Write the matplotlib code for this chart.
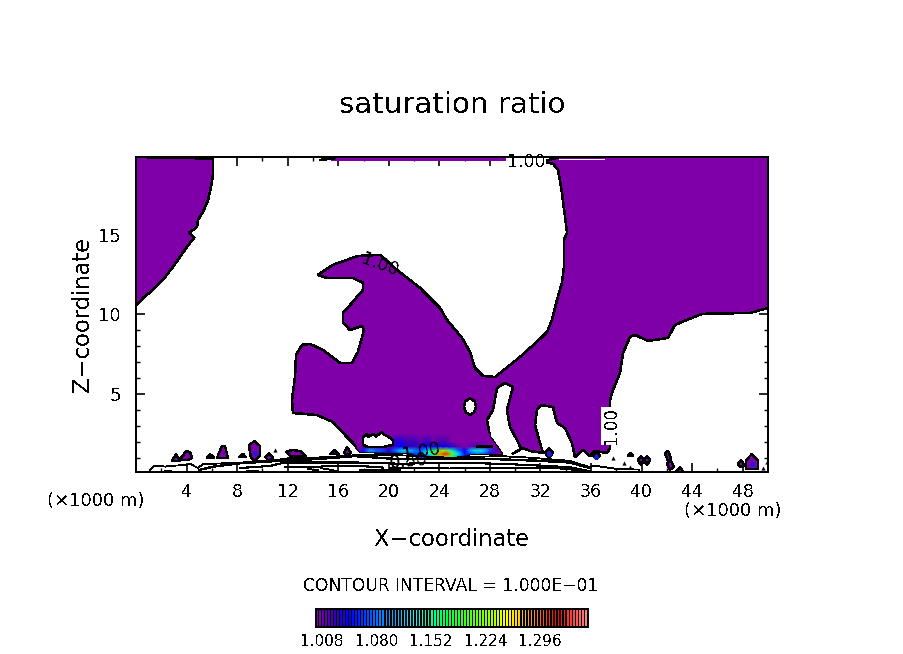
import numpy as np
import matplotlib
matplotlib.use("Agg")
import matplotlib.pyplot as plt
from matplotlib.colors import LinearSegmentedColormap
from matplotlib.patches import Polygon

plt.rcParams.update({"font.family": "DejaVu Sans", "text.antialiased": False,
                     "lines.antialiased": False, "patch.antialiased": False})

# ---- region outlines of the 1.00 contour, (x km, z km)
left_x = [0, 6.09, 6.09, 5.93, 5.70, 5.30, 4.90, 4.83, 4.19, 4.59, 4.03, 3.48, 2.93, 2.14, 1.34, 0.55, 0]
left_z = [19.9, 19.8, 18.8, 18.0, 17.2, 16.45, 15.95, 15.5, 15.13, 14.82, 14.25, 13.62, 13.0, 12.18, 11.55, 11.04, 10.54]

main_x = [50, 33.47, 32.2, 33.0, 33.39, 33.7, 33.94, 34.1, 33.86, 33.86, 33.7, 33.31, 32.91, 32.52, 31.96, 30.38,
          28.4, 27.45, 26.82, 26.42, 25.79, 24.6, 24.05, 22.47, 20.65, 19.3, 17.56, 15.59, 14.4, 15.11, 17.17, 17.96,
          17.96, 17.09, 16.38, 16.38, 16.93, 17.88, 18.04, 17.56, 17.09, 16.14, 14.79, 13.77, 13.13, 12.66, 12.58,
          12.34, 12.42, 14.32, 15.59, 16.3, 17.17, 17.72, 21.5, 22.5, 25.5, 26.5, 28.96, 28.01, 27.77, 28.24, 28.56,
          29.19, 29.83, 29.35, 29.59, 30.22, 30.46, 29.75, 30.62, 31.17, 32.2, 31.96, 31.57, 31.72, 32.04, 32.99,
          33.31, 33.94, 34.49, 34.73, 35.36, 35.92, 36.31, 37.26, 37.5, 37.5, 37.74, 38.29, 38.53, 39.08, 39.48,
          40.51, 42.09, 42.64, 44.78, 48.58, 50]
main_z = [19.9, 19.9, 19.6, 19.47, 19.09, 17.65, 16.14, 15.13, 14.69, 13.0, 11.99, 10.92, 9.66, 8.9, 8.46, 7.33,
          6.07, 6.14, 6.64, 7.65, 8.53, 9.66, 10.41, 11.67, 12.8, 13.75, 13.68, 13.12, 12.49, 12.3, 12.3, 11.99,
          11.55, 10.73, 10.1, 9.47, 9.03, 9.28, 9.03, 7.65, 6.96, 6.96, 7.77, 8.15, 8.09, 7.46, 6.07,
          4.63, 3.81, 3.68, 3.24, 2.62, 1.92, 1.36, 1.3, 1.0, 1.0, 1.25, 1.23, 2.3, 3.37, 4.0, 5.38,
          5.7, 5.45, 4.0, 2.93, 1.99, 1.55, 1.23, 1.61, 1.42, 1.3, 1.92, 3.06, 4.0, 4.31, 4.19,
          3.18, 2.87, 1.92, 1.04, 1.48, 1.11, 1.42, 1.29, 1.61, 4.63, 5.26, 6.33, 7.58, 8.59, 8.72,
          8.34, 8.53, 9.35, 10.04, 10.1, 10.41]

top_x = [15.5, 29.6, 29.6, 15.5]
top_z = [19.9, 19.9, 19.68, 19.7]

hole_oval_x = [26.42, 26.8, 26.9, 26.75, 26.42, 26.1, 25.95, 26.05]
hole_oval_z = [4.72, 4.55, 4.2, 3.85, 3.68, 3.85, 4.2, 4.55]
hole_patch_x = [17.96, 18.28, 18.35, 18.75, 19.0, 19.46, 19.54, 20.0, 20.33, 20.33, 19.54, 18.35, 17.96]
hole_patch_z = [2.3, 2.49, 2.3, 2.49, 2.35, 2.62, 2.49, 2.3, 2.11, 1.8, 1.67, 1.67, 1.8]

# ---- small saturated cells: (xs, zs, has_blue_core)
cells = [
    ([2.85, 3.16, 3.48], [0.79, 1.23, 0.79], False),
    ([3.56, 3.96, 4.27, 4.43, 4.11, 3.64], [0.98, 1.42, 1.36, 0.98, 0.85, 0.85], False),
    ([5.62, 5.85, 6.17], [1.0, 1.23, 1.0], False),
    ([6.41, 6.8, 7.04, 7.28, 6.41], [0.98, 1.74, 1.74, 0.98, 0.98], False),
    ([8.15, 8.47, 8.7], [1.04, 1.23, 1.04], False),
    ([8.94, 9.34, 9.81, 9.81, 9.34, 9.1], [1.74, 2.05, 1.74, 1.11, 0.79, 0.98], True),
    ([10.21, 10.52, 10.84, 10.52], [1.04, 1.29, 1.04, 0.79], False),
    ([11.87, 12.34, 12.97, 13.45, 12.18], [1.36, 1.48, 1.42, 1.11, 1.11], False),
    ([15.35, 15.74, 16.06], [1.23, 1.48, 1.23], False),
    ([16.46, 16.69, 17.01, 16.69], [1.29, 1.67, 1.29, 1.17], False),
    ([32.36, 32.67, 32.99, 32.67], [1.3, 1.61, 1.3, 1.0], True),
    ([36.16, 36.39, 36.71, 36.39], [1.1, 1.42, 1.1, 0.92], True),
    ([38.92, 39.08, 39.32], [1.11, 1.3, 1.11], False),
    ([39.72, 39.95, 40.19, 39.95], [0.85, 1.1, 0.85, 0.54], False),
    ([40.19, 40.43, 40.66, 40.43], [0.85, 1.1, 0.85, 0.54], False),
    ([41.85, 42.09, 42.33, 42.09], [1.29, 1.42, 0.98, 0.79], False),
    ([42.01, 42.25, 42.56, 42.25], [0.6, 0.85, 0.45, 0.23], False),
    ([42.72, 43.04, 43.28], [0.1, 0.41, 0.1], False),
    ([47.63, 47.86, 48.18, 47.86], [0.6, 0.85, 0.5, 0.41], False),
    ([48.26, 48.73, 49.21, 49.21, 48.26], [0.85, 1.23, 0.85, 0.3, 0.3], True),
]
specks_x = [11.0, 37.74, 38.61, 39.08, 49.6, 49.95]
specks_z = [1.5, 0.95, 0.65, 0.42, 0.35, 0.75]

# ---- plume of high saturation along the cloud base
band_x = list(np.arange(17.5, 29.5, 0.5))
band_z = [1.0, 1.25, 1.45, 1.7, 2.0, 2.5]
band_vals = [
 [1.00,1.00,1.00,1.00,1.00,1.00,1.00,1.00,1.00,1.00,1.01,1.05,1.11,1.20,1.24,1.16,1.08,1.02,1.00,1.00,1.00,1.00,1.00,1.00],
 [1.00,1.03,1.07,1.06,1.05,1.02,1.05,1.08,1.07,1.06,1.07,1.13,1.20,1.29,1.32,1.21,1.12,1.05,1.06,1.08,1.07,1.03,1.00,1.00],
 [1.00,1.05,1.10,1.08,1.07,1.03,1.08,1.12,1.11,1.09,1.07,1.12,1.16,1.22,1.23,1.14,1.08,1.04,1.11,1.14,1.12,1.07,1.02,1.00],
 [1.00,1.00,1.01,1.00,1.01,1.01,1.03,1.04,1.03,1.02,1.03,1.04,1.04,1.04,1.04,1.03,1.01,1.00,1.01,1.02,1.01,1.00,1.00,1.00],
 [1.00,1.00,1.00,1.00,1.00,1.00,1.03,1.04,1.02,1.03,1.01,1.03,1.01,1.02,1.02,1.00,1.00,1.00,1.00,1.00,1.00,1.00,1.00,1.00],
 [1.00,1.00,1.00,1.00,1.00,1.00,1.00,1.00,1.00,1.00,1.00,1.00,1.00,1.00,1.00,1.00,1.00,1.00,1.00,1.00,1.00,1.00,1.00,1.00],
]

# ---- thin contour lines close to the ground
low_lines = [
 ([1.1,1.5,2.3,3.1,3.9,4.3,4.9,5.3,7.9,11.1,12.2,13.8,17.3,20.9,24.8,28.8,31.2,34.3,35.9,36.2,38.0,39.8],
  [0.25,0.5,0.44,0.5,0.54,0.6,0.35,0.6,0.67,0.85,0.98,0.98,1.15,1.15,1.0,1.1,1.0,0.8,0.4,0.5,0.3,0.25], 0.6),
 ([5.0,6.2,8.2,11.1,13.0,15.4,17.3,20.9,24.8,28.8,32.0,34.3,35.9],
  [0.23,0.45,0.65,0.79,0.85,0.98,1.1,0.9,0.9,0.9,0.8,0.7,0.35], 1.0),
 ([8.2,10.6,11.8,13.8,17.3,20.9,24.8,28.8,32.0,34.3,35.9],
  [0.35,0.48,0.7,0.7,0.7,0.62,0.68,0.62,0.5,0.4,0.15], 0.8),
 ([11.8,13.8,15.4,17.3,19.5],[0.4,0.4,0.48,0.5,0.38], 0.8),
 ([20.1,24.8,28.8,33.6,35.9],[0.38,0.32,0.38,0.32,0.15], 0.7),
 ([17.8,20.7],[0.18,0.18], 2.2),
 ([2.3,2.7],[0.15,0.15], 0.8),
 ([8.8,9.6],[0.15,0.15], 0.8),
 ([13.6,14.4],[0.3,0.2], 0.6),
 ([14.6,16.0],[0.35,0.15], 0.6),
 ([27.0,28.1],[1.72,1.72], 1.8),
]

cbar_levels = list(np.arange(1.0, 1.36, 0.004))
cbar_labels = ["1.008", "1.080", "1.152", "1.224", "1.296"]
x_tick_labels = [4, 8, 12, 16, 20, 24, 28, 32, 36, 40, 44, 48]
z_tick_labels = [5, 10, 15]

PURPLE = "#7f00a8"
cmap = LinearSegmentedColormap.from_list("sat", [
    (0.0, PURPLE), (0.06, "#4000b0"), (0.12, "#0000ff"), (0.25, "#0090ff"), (0.36, "#00ffff"),
    (0.48, "#00ff40"), (0.62, "#80ff00"), (0.70, "#ffff00"), (0.80, "#ff9000"),
    (0.885, "#ff0000"), (1.0, "#ff8888")])

W, H = 904, 654
fig = plt.figure(figsize=(W / 100, H / 100), dpi=100, facecolor="white")
ax = fig.add_axes([136 / W, 1 - 472 / H, 632 / W, 315 / H])
ax.set_xlim(0, 50)
ax.set_ylim(0.1, 19.9)

def region(xs, zs, face=PURPLE, lw=1.1, z=2):
    p = Polygon(np.column_stack([xs, zs]), closed=True, facecolor=face, edgecolor="black", linewidth=lw, zorder=z)
    ax.add_patch(p)
    return p

region(left_x, left_z)
main_patch = region(main_x, main_z)
ax.fill(top_x, top_z, color=PURPLE, zorder=2, lw=0)
ax.plot([14.6, 15.7], [19.72, 19.82], color="black", lw=1.1, zorder=3)
ax.plot([33.5, 37.0], [19.78, 19.78], color="white", lw=0.7, zorder=3)

mesh = ax.pcolormesh(band_x, band_z, np.array(band_vals), cmap=cmap, vmin=1.0, vmax=1.36,
                     shading="gouraud", zorder=2.5)
mesh.set_clip_path(main_patch)

region(hole_oval_x, hole_oval_z, face="white", z=3)
region(hole_patch_x, hole_patch_z, face="white", z=3)

for xs, zs, blue in cells:
    region(xs, zs, lw=1.0, z=3)
    if blue:
        ax.plot(np.mean(xs), np.mean(zs) - 0.1, "o", ms=3.5, color="#1020e0", mew=0, zorder=4)
ax.plot(specks_x, specks_z, "^", color="black", ms=3, mew=0, zorder=4)

for xs, zs, lw in low_lines:
    ax.plot(xs, zs, color="black", lw=lw, zorder=4, solid_joinstyle="miter")

box = dict(facecolor="white", edgecolor="none", pad=0.3)
ax.text(19.3, 13.1, "1.00", rotation=-20, ha="center", va="center", fontsize=12.5, zorder=5)
ax.text(30.85, 19.6, "1.00", ha="center", va="center", fontsize=12.5, zorder=5, bbox=box)
ax.text(37.55, 3.0, "1.00", rotation=90, ha="center", va="center", fontsize=12, zorder=5, bbox=box)
ax.text(21.6, 0.75, "0.80", rotation=5, ha="center", va="center", fontsize=12.5, zorder=5)
ax.text(22.6, 1.35, "1.00", rotation=10, ha="center", va="center", fontsize=12.5, zorder=5)

for s in ax.spines.values():
    s.set_linewidth(1.2)
    s.set_zorder(6)
ax.set_xticks(x_tick_labels)
ax.set_xticklabels([str(v) for v in x_tick_labels], fontsize=12.5)
ax.set_xticks(np.arange(2, 50, 4), minor=True)
ax.set_yticks(z_tick_labels)
ax.set_yticklabels([str(v) for v in z_tick_labels], fontsize=13)
ax.set_yticks(np.arange(1, 20, 1), minor=True)
ax.tick_params(which="major", direction="in", length=6.5, width=1.2, top=True, right=True, pad=8)
ax.tick_params(which="minor", direction="in", length=3, width=1.0, top=True, right=True)
ax.tick_params(axis="y", which="major", pad=11)

def ptext(px, py, s, **kw):
    fig.text(px / W, 1 - py / H, s, ha=kw.pop("ha", "center"), va="center", **kw)

ptext(452, 105, "saturation ratio", fontsize=21.2)
ptext(452, 540, "X\u2212coordinate", fontsize=16.3)
ptext(83, 314, "Z\u2212coordinate", fontsize=16.3, rotation=90)
ptext(96, 501, "(\u00d71000 m)", fontsize=13)
ptext(733, 511, "(\u00d71000 m)", fontsize=13)
ptext(451, 586, "CONTOUR INTERVAL = 1.000E\u221201", fontsize=12.3)

cax = fig.add_axes([316 / W, 1 - 627 / H, 272 / W, 18 / H], facecolor="black")
cax.bar(cbar_levels, 1, width=0.0022, align="edge", color=cmap((np.array(cbar_levels) - 1.0) / 0.36), linewidth=0)
cax.set_xlim(1.0, 1.36)
cax.set_ylim(0, 1)
cax.set_xticks([])
cax.set_yticks([])
for s in cax.spines.values():
    s.set_linewidth(1.2)

for px, s in zip([322, 377, 431, 486, 540], cbar_labels):
    ptext(px, 641, s, fontsize=11)

fig.savefig("out.png", dpi=100, facecolor="white")
